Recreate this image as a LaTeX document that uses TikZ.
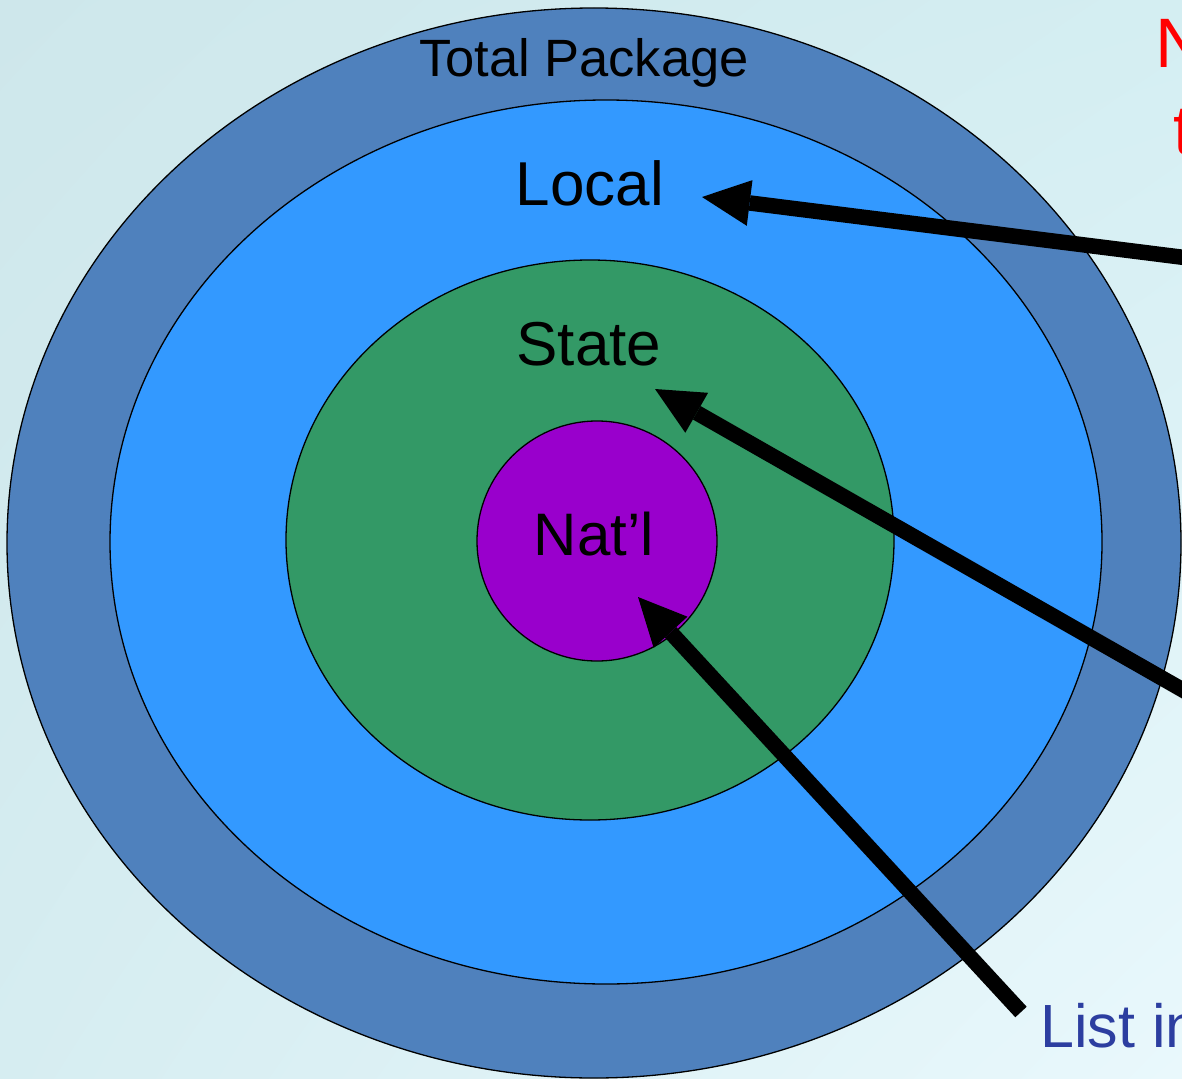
\documentclass[tikz,border=0pt]{standalone}
\usepackage{fontspec}
\setmainfont{Liberation Sans}
\usetikzlibrary{arrows.meta,shadings}

\definecolor{bgTL}{RGB}{206,231,235}
\definecolor{bgTR}{RGB}{212,238,242}
\definecolor{bgBL}{RGB}{214,237,241}
\definecolor{bgBR}{RGB}{233,248,252}
\definecolor{ringTotal}{RGB}{79,129,189}
\definecolor{ringLocal}{RGB}{51,153,255}
\definecolor{ringState}{RGB}{51,153,102}
\definecolor{ringNat}{RGB}{153,0,204}
\definecolor{noteRed}{RGB}{255,0,0}
\definecolor{noteBlue}{RGB}{44,62,160}

\tikzset{
  ring/.style={draw=black, line width=1.3pt},
  label/.style={inner sep=0pt, anchor=base, text=black},
  pointer/.style={line width=15.5pt, line cap=butt,
    -{Triangle[length=48pt, width=46pt, line width=0pt]}},
  note/.style={inner sep=0pt, anchor=base west}
}

\begin{document}
\begin{tikzpicture}[x=1pt, y=-1pt]
  % page frame and background
  \useasboundingbox (0,0) rectangle (1182,1078);
  \shade[upper left=bgTL, upper right=bgTR, lower left=bgBL, lower right=bgBR]
    (0,0) rectangle (1182,1078);

  % concentric rings
  \filldraw[ring, fill=ringTotal] (594,543) ellipse [x radius=587, y radius=535];
  \filldraw[ring, fill=ringLocal] (606,542) ellipse [x radius=496, y radius=442];
  \filldraw[ring, fill=ringState] (590,540) ellipse [x radius=304, y radius=280];
  \filldraw[ring, fill=ringNat]   (597,541) circle [radius=120];

  % ring labels
  \node[label, font=\fontsize{52.5}{60}\selectfont] (total) at (584,77) {Total Package};
  \node[label, font=\fontsize{62}{70}\selectfont] (local) at (590,205) {Local};
  \node[label, font=\fontsize{62}{70}\selectfont] (state) at (589,365) {State};
  \node[label, font=\fontsize{60}{70}\selectfont] (natl)  at (594,555) {Nat’l};

  % side notes
  \node[note, text=noteRed, font=\fontsize{70}{80}\selectfont] (noteN) at (1155,68) {N};
  \node[note, text=noteRed, font=\fontsize{70}{80}\selectfont] (noteT) at (1173,155) {t};
  \node[note, text=noteBlue, font=\fontsize{61}{70}\selectfont] (list) at (1040,1047) {List in};

  % pointer ends
  \coordinate (tipLocal) at (702,197);
  \coordinate (tipState) at (655,389);
  \coordinate (tipNat)   at (638,597);
  \coordinate (fromTop)  at (1300,272);
  \coordinate (fromMid)  at (1260,734);
  \coordinate (fromList) at (1021,1012);

  % pointers
  \draw[pointer] (fromTop)  -- (tipLocal);
  \draw[pointer] (fromMid)  -- (tipState);
  \draw[pointer] (fromList) -- (tipNat);
\end{tikzpicture}
\end{document}
